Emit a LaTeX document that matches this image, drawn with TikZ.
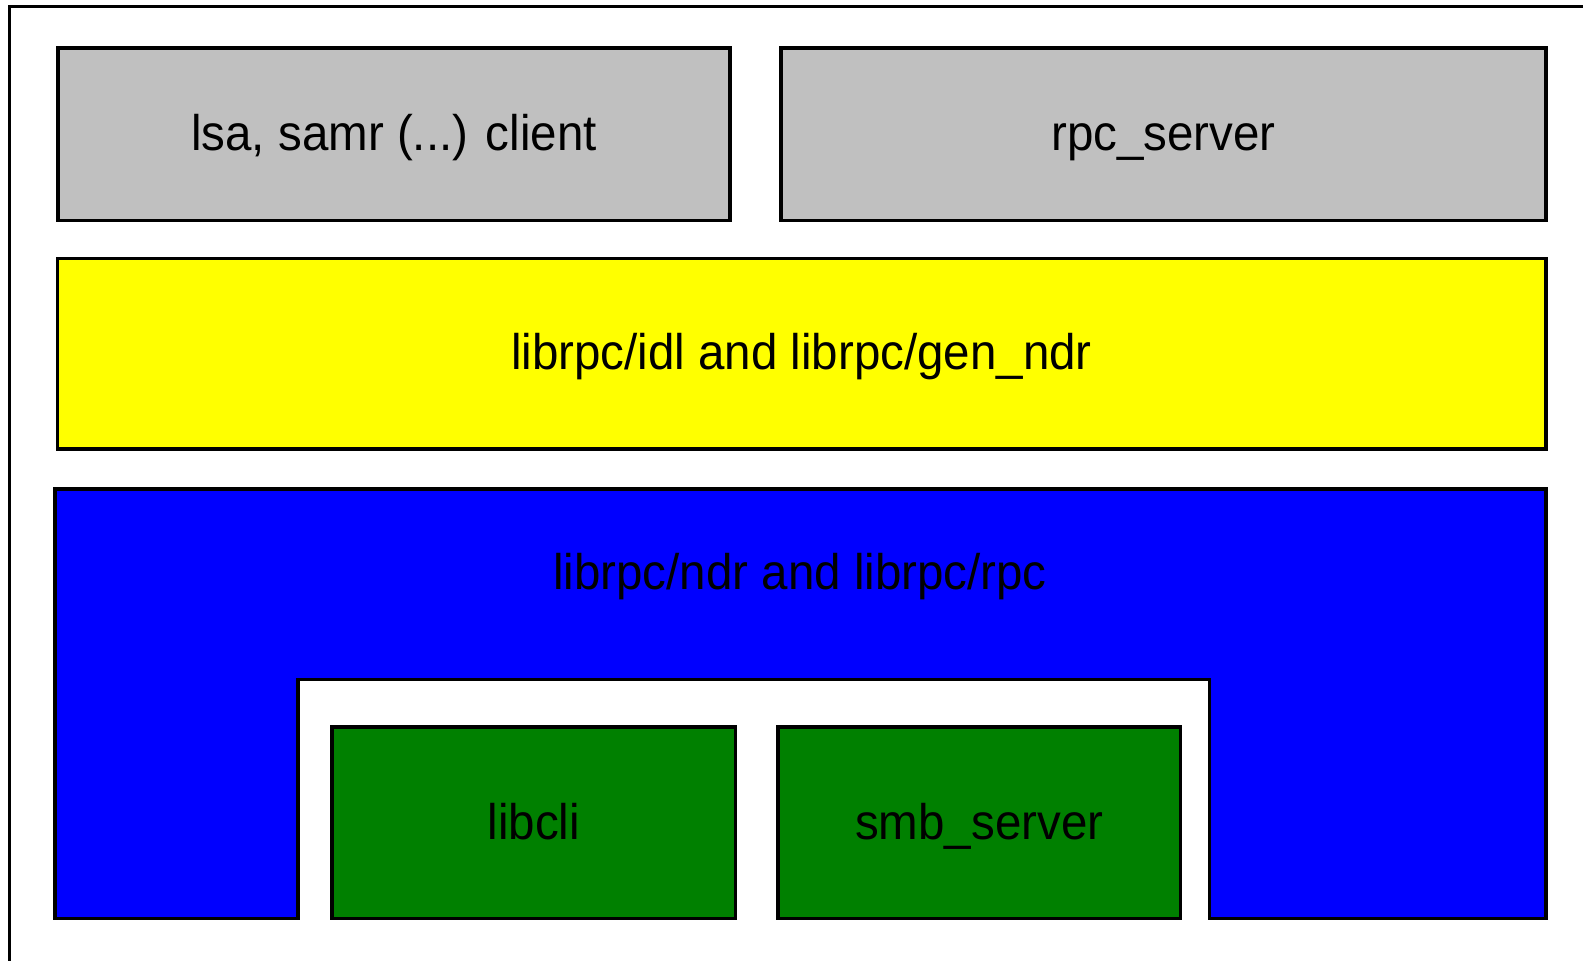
\documentclass[tikz,border=0pt]{standalone}
\usepackage{fontspec}
\setmainfont{Liberation Sans}[FakeStretch=0.95]
\definecolor{layergray}{HTML}{C0C0C0}
\definecolor{layeryellow}{HTML}{FFFF00}
\definecolor{layerblue}{HTML}{0000FF}
\definecolor{layergreen}{HTML}{008000}
\begin{document}
\begin{tikzpicture}[x=0.5pt,y=-0.5pt,
  box/.style={draw=black,line width=1.75pt,line join=miter},
  lbl/.style={anchor=base,inner sep=0pt,font=\fontsize{25}{30}\selectfont}]
\useasboundingbox (0,0) rectangle (1583,961);
\clip (0,0) rectangle (1583,961);
% outer frame (only its left and top sides fall inside the page)
\draw[line width=1.75pt] (9.5,1100) -- (9.5,6.5) -- (1700,6.5) -- (1700,1100) -- cycle;

% top row: consumers
\draw[box,fill=layergray] (58,48) rectangle (730,220.5);
\draw[box,fill=layergray] (781,48) rectangle (1546,220.5);
\node[lbl] (client) at (394,151) {lsa, samr (...) client};
\node[lbl] (server) at (1163.5,151) {rpc\_server};

% generated code layer
\draw[box,fill=layeryellow] (57.5,258.5) rectangle (1546,449);
\node[lbl] (idl) at (801.5,370) {librpc/idl and librpc/gen\_ndr};

% ndr / rpc layer with a notch for the transports
\draw[box,fill=layerblue] (55,489) -- (1546,489) -- (1546,918.5) -- (1209.5,918.5)
  -- (1209.5,679.5) -- (298,679.5) -- (298,918.5) -- (55,918.5) -- cycle;
\node[lbl] (ndr) at (800,589) {librpc/ndr and librpc/rpc};

% transports
\draw[box,fill=layergreen] (332,727) rectangle (735.5,918.5);
\draw[box,fill=layergreen] (778,727) rectangle (1180.5,918.5);
\node[lbl] (libcli) at (533.75,839) {libcli};
\node[lbl] (smb) at (979.25,839) {smb\_server};
\end{tikzpicture}
\end{document}
